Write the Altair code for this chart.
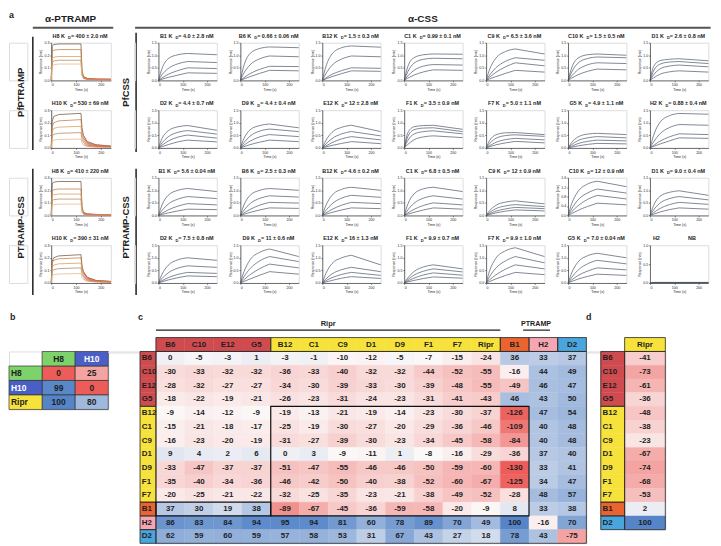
import altair as alt
import pandas as pd

FONT = "Liberation Sans"
INK = "#1e1e1e"
ONE = pd.DataFrame({"k": [0]})

# ============================== panel a : sensorgram data ==============================
ASSOC_T = [0, 15, 40, 80, 120]
DISS_T = [120, 240]
PTR_T = [0, 4, 10, 30, 120, 124, 130, 145, 180, 240]

PTR_NAMES = ["H8", "H10", "H8", "H10"]
PTR_KD = ["400 ± 2.0", "530 ± 69", "410 ± 220", "390 ± 31"]
PTR_CURVES = [
    [[0, 0.27, 0.285, 0.29, 0.29, 0.08, 0.03, 0.015, 0.01, 0.01],
     [0, 0.225, 0.24, 0.245, 0.245, 0.07, 0.028, 0.014, 0.01, 0.008],
     [0, 0.17, 0.185, 0.19, 0.19, 0.055, 0.022, 0.012, 0.008, 0.006],
     [0, 0.14, 0.155, 0.16, 0.16, 0.045, 0.018, 0.01, 0.006, 0.005],
     [0, 0.11, 0.125, 0.13, 0.13, 0.035, 0.015, 0.008, 0.005, 0.004]],
    [[0, 0.21, 0.25, 0.265, 0.275, 0.16, 0.10, 0.05, 0.025, 0.015],
     [0, 0.17, 0.20, 0.215, 0.225, 0.13, 0.08, 0.04, 0.02, 0.012],
     [0, 0.13, 0.155, 0.165, 0.172, 0.10, 0.062, 0.032, 0.016, 0.01],
     [0, 0.09, 0.108, 0.116, 0.122, 0.07, 0.044, 0.022, 0.012, 0.008],
     [0, 0.05, 0.062, 0.067, 0.07, 0.04, 0.025, 0.013, 0.007, 0.005]],
    [[0, 0.25, 0.265, 0.27, 0.27, 0.07, 0.025, 0.012, 0.008, 0.006],
     [0, 0.19, 0.205, 0.21, 0.21, 0.055, 0.02, 0.01, 0.007, 0.005],
     [0, 0.155, 0.165, 0.17, 0.17, 0.045, 0.017, 0.009, 0.006, 0.004],
     [0, 0.115, 0.125, 0.13, 0.13, 0.035, 0.013, 0.007, 0.005, 0.003],
     [0, 0.075, 0.085, 0.09, 0.09, 0.025, 0.01, 0.005, 0.004, 0.003]],
    [[0, 0.17, 0.20, 0.215, 0.225, 0.14, 0.09, 0.045, 0.02, 0.012],
     [0, 0.155, 0.18, 0.192, 0.20, 0.125, 0.08, 0.04, 0.018, 0.011],
     [0, 0.12, 0.142, 0.152, 0.158, 0.10, 0.064, 0.032, 0.015, 0.009],
     [0, 0.09, 0.106, 0.114, 0.12, 0.075, 0.048, 0.024, 0.012, 0.007],
     [0, 0.055, 0.066, 0.071, 0.075, 0.047, 0.03, 0.015, 0.008, 0.005]],
]

# each curve: response at t = 15, 40, 80, 120 s and at the end (240 s)
R1_NAMES = ["B1", "B6", "B12", "C1", "C9", "C10", "D1"]
R1_KD = ["4.0 ± 2.8", "0.66 ± 0.06", "1.5 ± 0.3", "0.99 ± 0.1", "6.5 ± 3.6", "1.5 ± 0.5", "2.6 ± 0.8"]
R1_YMAX = [1.5, 1.5, 1.5, 1.5, 1.5, 1.5, 1.5]
R1_CURVES = [
    [[0.48, 0.86, 1.02, 1.07, 1.02], [0.23, 0.47, 0.66, 0.75, 0.71], [0.10, 0.24, 0.39, 0.50, 0.47], [0.05, 0.12, 0.21, 0.30, 0.28]],
    [[0.60, 1.07, 1.27, 1.33, 1.30], [0.30, 0.62, 0.86, 0.97, 0.94], [0.11, 0.27, 0.44, 0.56, 0.55], [0.06, 0.15, 0.28, 0.40, 0.38]],
    [[0.55, 1.05, 1.30, 1.37, 1.32], [0.27, 0.60, 0.85, 0.97, 0.94], [0.10, 0.24, 0.39, 0.50, 0.48], [0.06, 0.15, 0.27, 0.38, 0.36]],
    [[0.55, 0.90, 1.02, 1.05, 1.04], [0.35, 0.68, 0.84, 0.88, 0.86], [0.18, 0.40, 0.57, 0.63, 0.61], [0.09, 0.21, 0.34, 0.42, 0.40]],
    [[0.45, 0.88, 1.15, 1.25, 1.05], [0.22, 0.50, 0.76, 0.90, 0.80], [0.13, 0.32, 0.54, 0.70, 0.58], [0.06, 0.15, 0.28, 0.40, 0.33]],
    [[0.50, 0.88, 1.02, 1.05, 1.00], [0.33, 0.68, 0.87, 0.93, 0.90], [0.18, 0.42, 0.62, 0.70, 0.67], [0.09, 0.22, 0.36, 0.45, 0.42]],
    [[0.55, 0.78, 0.84, 0.86, 0.78], [0.38, 0.64, 0.73, 0.75, 0.67], [0.22, 0.45, 0.57, 0.61, 0.54], [0.10, 0.24, 0.34, 0.38, 0.33]],
]

R2_NAMES = ["D2", "D9", "E12", "F1", "F7", "G5", "H2"]
R2_KD = ["4.4 ± 0.7", "4.4 ± 0.4", "12 ± 2.8", "3.5 ± 0.9", "5.0 ± 1.1", "4.9 ± 1.1", "0.88 ± 0.4"]
R2_YMAX = [1.5, 1.5, 1.5, 1.5, 1.5, 1.5, 1.5]
R2_CURVES = [
    [[0.38, 0.68, 0.84, 0.89, 0.70], [0.20, 0.44, 0.62, 0.69, 0.55], [0.11, 0.27, 0.43, 0.51, 0.39], [0.05, 0.13, 0.24, 0.31, 0.24]],
    [[0.38, 0.72, 0.89, 0.95, 0.80], [0.21, 0.47, 0.67, 0.75, 0.65], [0.11, 0.27, 0.44, 0.53, 0.45], [0.05, 0.13, 0.23, 0.31, 0.25]],
    [[0.30, 0.62, 0.82, 0.90, 0.65], [0.16, 0.37, 0.56, 0.65, 0.48], [0.08, 0.21, 0.36, 0.45, 0.32], [0.04, 0.10, 0.18, 0.25, 0.17]],
    [[0.60, 0.84, 0.89, 0.90, 0.74], [0.45, 0.72, 0.79, 0.80, 0.65], [0.30, 0.55, 0.65, 0.68, 0.56], [0.14, 0.32, 0.44, 0.48, 0.41]],
    [[0.30, 0.52, 0.60, 0.61, 0.53], [0.18, 0.38, 0.49, 0.52, 0.46], [0.09, 0.22, 0.33, 0.38, 0.32], [0.05, 0.12, 0.20, 0.26, 0.20]],
    [[0.22, 0.43, 0.55, 0.58, 0.53], [0.13, 0.29, 0.40, 0.45, 0.40], [0.07, 0.17, 0.26, 0.31, 0.28], [0.03, 0.08, 0.14, 0.18, 0.16]],
    [[0.50, 1.00, 1.28, 1.37, 1.34], [0.24, 0.55, 0.81, 0.93, 0.90], [0.10, 0.26, 0.44, 0.56, 0.53], [0.06, 0.15, 0.28, 0.40, 0.38]],
]

R3_NAMES = ["B1", "B6", "B12", "C1", "C9", "C10", "D1"]
R3_KD = ["5.6 ± 0.04", "2.5 ± 0.3", "4.6 ± 0.2", "6.8 ± 0.5", "12 ± 0.9", "12 ± 0.9", "9.0 ± 0.4"]
R3_YMAX = [1.5, 1.5, 1.5, 1.5, 1.5, 1.6, 1.5]
R3_CURVES = [
    [[0.42, 0.80, 1.00, 1.07, 0.95], [0.20, 0.45, 0.65, 0.75, 0.67], [0.09, 0.22, 0.37, 0.47, 0.42], [0.04, 0.10, 0.18, 0.25, 0.23]],
    [[0.42, 0.80, 1.00, 1.07, 1.00], [0.21, 0.47, 0.68, 0.78, 0.73], [0.10, 0.24, 0.41, 0.52, 0.49], [0.05, 0.12, 0.22, 0.30, 0.28]],
    [[0.40, 0.80, 1.04, 1.12, 1.00], [0.20, 0.46, 0.69, 0.80, 0.72], [0.10, 0.24, 0.41, 0.52, 0.47], [0.05, 0.12, 0.22, 0.30, 0.27]],
    [[0.45, 0.85, 1.06, 1.12, 0.95], [0.22, 0.48, 0.69, 0.78, 0.65], [0.10, 0.24, 0.40, 0.50, 0.42], [0.05, 0.12, 0.22, 0.30, 0.25]],
    [[0.20, 0.40, 0.53, 0.58, 0.46], [0.12, 0.27, 0.38, 0.43, 0.35], [0.07, 0.17, 0.26, 0.32, 0.27], [0.04, 0.10, 0.17, 0.22, 0.18]],
    [[0.50, 1.00, 1.33, 1.45, 1.22], [0.28, 0.65, 0.95, 1.12, 0.95], [0.16, 0.40, 0.68, 0.85, 0.70], [0.08, 0.21, 0.38, 0.52, 0.45]],
    [[0.40, 0.75, 0.92, 0.98, 0.80], [0.22, 0.48, 0.67, 0.75, 0.62], [0.11, 0.27, 0.43, 0.52, 0.44], [0.05, 0.13, 0.23, 0.30, 0.25]],
]

R4_NAMES = ["D2", "D9", "E12", "F1", "F7", "G5", "H2"]
R4_KD = ["7.5 ± 0.8", "11 ± 0.6", "16 ± 1.3", "9.9 ± 0.7", "9.9 ± 1.0", "7.0 ± 0.04", None]
R4_YMAX = [1.5, 1.5, 1.5, 1.5, 1.5, 1.5, 1.0]
R4_CURVES = [
    [[0.35, 0.70, 0.92, 1.00, 0.90], [0.18, 0.40, 0.59, 0.68, 0.62], [0.09, 0.21, 0.34, 0.42, 0.38], [0.05, 0.12, 0.21, 0.28, 0.25]],
    [[0.45, 0.92, 1.22, 1.35, 1.05], [0.25, 0.57, 0.88, 1.05, 0.85], [0.13, 0.33, 0.57, 0.75, 0.60], [0.06, 0.16, 0.31, 0.45, 0.35]],
    [[0.38, 0.77, 1.00, 1.10, 0.72], [0.16, 0.36, 0.53, 0.62, 0.45], [0.09, 0.21, 0.34, 0.42, 0.30], [0.04, 0.10, 0.19, 0.25, 0.18]],
    [[0.20, 0.45, 0.64, 0.72, 0.56], [0.13, 0.31, 0.47, 0.56, 0.44], [0.08, 0.19, 0.32, 0.40, 0.31], [0.04, 0.10, 0.18, 0.24, 0.19]],
    [[0.50, 0.98, 1.28, 1.40, 1.05], [0.26, 0.59, 0.88, 1.05, 0.80], [0.13, 0.32, 0.55, 0.72, 0.56], [0.06, 0.16, 0.30, 0.42, 0.33]],
    [[0.40, 0.82, 1.08, 1.18, 1.00], [0.22, 0.50, 0.76, 0.90, 0.76], [0.12, 0.29, 0.47, 0.60, 0.52], [0.06, 0.15, 0.26, 0.35, 0.30]],
    [[0.015, 0.015, 0.015, 0.015, 0.015], [0.01, 0.01, 0.01, 0.01, 0.01], [0.008, 0.008, 0.008, 0.008, 0.008], [0.005, 0.005, 0.005, 0.005, 0.005]],
]

TICKS = {1.5: [0, 0.5, 1.0, 1.5], 1.6: [0, 0.4, 0.8, 1.2, 1.6], 1.0: [0, 0.5, 1.0], 0.3: [0, 0.1, 0.2, 0.3]}

# ============================== panels b, c, d : heat-map data ==============================
B_COLS = ["H8", "H10"]
B_ROWS = ["H8", "H10", "Ripr"]
B_VALUES = [[0, 25], [99, 0], [100, 80]]

C_COLS = ["B6", "C10", "E12", "G5", "B12", "C1", "C9", "D1", "D9", "F1", "F7", "Ripr", "B1", "H2", "D2"]
C_ROWS = ["B6", "C10", "E12", "G5", "B12", "C1", "C9", "D1", "D9", "F1", "F7", "B1", "H2", "D2"]
C_VALUES = [
    [0, -5, -3, 1, -3, -1, -10, -12, -5, -7, -15, -24, 36, 33, 37],
    [-30, -33, -32, -32, -36, -33, -40, -32, -32, -44, -52, -55, -16, 44, 49],
    [-28, -32, -27, -27, -34, -30, -39, -33, -30, -39, -48, -55, -49, 46, 47],
    [-18, -22, -19, -21, -26, -23, -31, -24, -23, -31, -41, -43, 46, 43, 50],
    [-9, -14, -12, -9, -19, -13, -21, -19, -14, -23, -30, -37, -126, 47, 54],
    [-15, -21, -18, -17, -25, -19, -30, -27, -20, -29, -36, -46, -109, 40, 48],
    [-16, -23, -20, -19, -31, -27, -39, -30, -23, -34, -45, -58, -84, 40, 48],
    [9, 4, 2, 6, 0, 3, -9, -11, 1, -8, -16, -29, -36, 37, 40],
    [-33, -47, -37, -37, -51, -47, -55, -46, -46, -50, -59, -60, -130, 33, 41],
    [-35, -40, -34, -36, -46, -42, -50, -40, -38, -52, -60, -67, -125, 34, 47],
    [-20, -25, -21, -22, -32, -25, -35, -23, -21, -38, -49, -52, -28, 48, 57],
    [37, 30, 19, 38, -89, -67, -45, -36, -59, -58, -20, -9, 8, 33, 38],
    [86, 83, 84, 94, 95, 94, 81, 60, 78, 89, 70, 49, 100, -16, 70],
    [62, 59, 60, 59, 57, 58, 53, 31, 67, 43, 27, 18, 78, 43, -75],
]
C_BOXES = [("B12", "B1", "B12", "B1"), ("B6", "G5", "B1", "B1")]  # (first col, last col, first row, last row)

D_COLS = ["Ripr"]
D_ROWS = ["B6", "C10", "E12", "G5", "B12", "C1", "C9", "D1", "D9", "F1", "F7", "B1", "D2"]
D_VALUES = [[-41], [-73], [-61], [-36], [-48], [-38], [-23], [-67], [-74], [-68], [-53], [2], [100]]

GROUP_OF = {"B6": "red", "C10": "red", "E12": "red", "G5": "red",
            "B12": "yellow", "C1": "yellow", "C9": "yellow", "D1": "yellow", "D9": "yellow",
            "F1": "yellow", "F7": "yellow", "Ripr": "yellow", "B1": "orange", "H2": "pink", "D2": "blue"}
LAB_COLORS = {"red": "#cf4b50", "yellow": "#f6e23b", "orange": "#eb6430", "pink": "#f6a6b3",
              "blue": "#4aa5dc", "green": "#7dd26b", "navy": "#4a5fc6"}
B_GROUP = {"H8": "green", "H10": "navy", "Ripr": "yellow"}
B_TEXT = {"H8": INK, "H10": "white", "Ripr": INK}

RED_END, MID, BLUE_END = "#ec5d59", "#fbf8f8", "#5585c8"

# ============================== helpers ==============================
AW = {" ": 0.278, ".": 0.278, "±": 0.584, "=": 0.584, "n": 0.611, "M": 0.833, "K": 0.722,
      "B": 0.722, "C": 0.722, "D": 0.722, "E": 0.667, "F": 0.611, "G": 0.778, "H": 0.722}


def tw(s, size):
    return sum(AW.get(ch, 0.556) for ch in s) * size


def txt(s, x, y, size, weight="bold", align="left", baseline="alphabetic", angle=0, color=INK):
    kw = dict(text=s, fontSize=size, fontWeight=weight, align=align, baseline=baseline,
              color=color, font=FONT)
    if angle:
        kw["angle"] = angle
    return alt.Chart(ONE).mark_text(**kw).encode(x=alt.value(x), y=alt.value(y))


def hrule(x1, x2, y, w, color=INK):
    return alt.Chart(ONE).mark_rule(strokeWidth=w, color=color).encode(
        x=alt.value(x1), x2=alt.value(x2), y=alt.value(y))


def vrule(x, y1, y2, w, color=INK):
    return alt.Chart(ONE).mark_rule(strokeWidth=w, color=color).encode(
        x=alt.value(x), y=alt.value(y1), y2=alt.value(y2))


def spacer(w, h):
    return alt.Chart(ONE).mark_point(opacity=0, size=1).encode(
        x=alt.value(0), y=alt.value(0)).properties(width=w, height=h)


AX = dict(labelFontSize=3.6, titleFontSize=3.6, titleFontWeight="normal", labelFont=FONT, titleFont=FONT,
          tickSize=1.5, tickWidth=0.5, domainWidth=0.6, domainColor=INK, tickColor=INK,
          labelColor=INK, titleColor=INK, labelPadding=0.8, titlePadding=1.0, grid=False,
          labelOverlap=False)


def x_axis():
    return alt.Axis(values=[0, 100, 200], title="Time (s)", **AX)


def y_axis(ticks):
    return alt.Axis(values=ticks, format=".1f", title="Response (nm)", **AX)


PTR_W, CSS_W, PLOT_H = 60, 58.8, 38
TY, TS, SUB = -5, 5.5, 4.0
CSS_LINE = "#4a5466"
PTR_COLORS = ["#6e5440", "#c27a3e", "#d99a5c", "#b08660", "#e3b886"]


def title_layers(name, kd, w):
    if kd is None:
        return [txt(name, 3, TY, TS), txt("NB", w * 0.72, TY, TS, align="center")]
    left = f"{name}   K"
    right = f" = {kd} nM"
    wl, wr, wd = tw(left, TS), tw(right, TS), 0.722 * SUB
    x0 = w / 2 - (wl + wd + wr) / 2
    return [txt(left, x0, TY, TS), txt("D", x0 + wl, TY + 1.6, SUB), txt(right, x0 + wl + wd, TY, TS)]


def css_plot(name, kd, curves, ymax):
    recs = []
    for ci, c in enumerate(curves):
        for t, v in zip(ASSOC_T, [0.0] + list(c[:4])):
            recs.append({"t": t, "v": v, "s": f"{ci}a"})
        for t, v in zip(DISS_T, [c[3], c[4]]):
            recs.append({"t": t, "v": v, "s": f"{ci}d"})
    df = pd.DataFrame(recs)
    lines = alt.Chart(df).mark_line(strokeWidth=0.7, color=CSS_LINE, interpolate="monotone").encode(
        x=alt.X("t:Q", scale=alt.Scale(domain=[0, 240], nice=False), axis=x_axis()),
        y=alt.Y("v:Q", scale=alt.Scale(domain=[0, ymax], nice=False), axis=y_axis(TICKS[ymax])),
        detail="s:N")
    return alt.layer(lines, *title_layers(name, kd, CSS_W)).properties(width=CSS_W, height=PLOT_H)


def ptr_plot(name, kd, curves):
    layers = []
    for ci, c in enumerate(curves):
        df = pd.DataFrame({"t": PTR_T, "v": c})
        enc = dict(
            x=alt.X("t:Q", scale=alt.Scale(domain=[0, 240], nice=False), axis=x_axis()),
            y=alt.Y("v:Q", scale=alt.Scale(domain=[0, 0.3], nice=False), axis=y_axis(TICKS[0.3])))
        layers.append(alt.Chart(df).mark_line(strokeWidth=0.75, color=PTR_COLORS[ci]).encode(**enc))
        layers.append(alt.Chart(df).transform_filter("datum.t >= 130").mark_line(
            strokeWidth=0.45, color="#d9482f", opacity=0.8).encode(**enc))
    return alt.layer(*layers, *title_layers(name, kd, PTR_W)).properties(width=PTR_W, height=PLOT_H)


# ============================== panel a layout (one flush grid) ==============================
VS = 30          # vertical gap between plot rows
S = 23.5         # horizontal gap between grid columns
LW = 18.5        # width of the annotation column
PITCH = PLOT_H + VS
css_left = LW + S + PTR_W + S + 1 + S
css_right = css_left + 7 * CSS_W + 6 * S
g1c = (2 * PLOT_H + VS) / 2 - 3
g2c = 2 * PITCH + (2 * PLOT_H + VS) / 2 - 3
g2t = 2 * PITCH
top_h = 4 * PLOT_H + 3 * VS

lab = alt.layer(
    txt("a", 0, -25, 9),
    txt("α-PTRAMP", 62, -21, 10, align="center"),
    hrule(24, 105, -15, 2, "#555555"),
    txt("α-CSS", (css_left - 23 + css_right + 4) / 2, -21, 10, align="center"),
    hrule(css_left - 23, css_right + 4, -15, 2, "#555555"),
    txt("PfPTRAMP", 12, g1c, 9.5, angle=270, align="center", baseline="middle"),
    vrule(24, -6, 2 * PLOT_H + VS + 2, 1.5),
    txt("PTRAMP-CSS", 12, g2c, 9.5, angle=270, align="center", baseline="middle"),
    vrule(24, g2t - 9, top_h + 12, 1.5),
    txt("PfCSS", css_left - 32, g1c, 9.5, angle=270, align="center", baseline="middle"),
    vrule(css_left - 22, -10, 2 * PLOT_H + VS + 4, 1.5),
    txt("PTRAMP-CSS", css_left - 32, g2c, 9.5, angle=270, align="center", baseline="middle"),
    vrule(css_left - 22, g2t - 9, top_h + 12, 1.5),
).properties(width=LW, height=PLOT_H)

ROWS = [(R1_NAMES, R1_KD, R1_YMAX, R1_CURVES), (R2_NAMES, R2_KD, R2_YMAX, R2_CURVES),
        (R3_NAMES, R3_KD, R3_YMAX, R3_CURVES), (R4_NAMES, R4_KD, R4_YMAX, R4_CURVES)]
top_cells = []
for r, (names, kds, ymaxs, curves) in enumerate(ROWS):
    top_cells.append(lab if r == 0 else spacer(LW, PLOT_H))
    top_cells.append(ptr_plot(PTR_NAMES[r], PTR_KD[r], PTR_CURVES[r]))
    top_cells.append(spacer(1, PLOT_H))
    top_cells += [css_plot(n, k, c, y) for n, k, y, c in zip(names, kds, ymaxs, curves)]
top = alt.concat(*top_cells, columns=10, spacing={"row": VS, "column": S}, bounds="flush", align="each")


# ============================== heat-map helpers ==============================
def runs(names):
    out, s = [], 0
    for k in range(1, len(names) + 1):
        if k == len(names) or GROUP_OF[names[k]] != GROUP_OF[names[s]]:
            out.append((s, k, GROUP_OF[names[s]]))
            s = k
    return out


def rect_layer(df, xs, ys, **mark):
    return alt.Chart(df).mark_rect(**mark).encode(
        x=alt.X("x0:Q", scale=xs, axis=None), x2="x1:Q",
        y=alt.Y("y0:Q", scale=ys, axis=None), y2="y1:Q")


def text_layer(df, xs, ys, size, align="center"):
    return alt.Chart(df).mark_text(fontSize=size, fontWeight="bold", font=FONT, align=align,
                                   baseline="middle").encode(
        x=alt.X("xt:Q", scale=xs, axis=None), y=alt.Y("yt:Q", scale=ys, axis=None),
        text="t:N", fill=alt.Fill("tc:N", scale=None))


def side_table(rows, cols, values, width, row_h, lab_px, cscale, boxes=(), hdr_px=14.0, fs=8.0):
    ncol, nrow = len(cols), len(rows)
    cw = width / ncol
    lw, hh = lab_px / cw, hdr_px / row_h
    xs = alt.Scale(domain=[0, ncol], nice=False, zero=False)
    ys = alt.Scale(domain=[0, nrow], nice=False, zero=False, reverse=True)
    cells = pd.DataFrame([{"x0": j, "x1": j + 1, "y0": i, "y1": i + 1, "xt": j + 0.5, "yt": i + 0.5,
                           "v": values[i][j], "t": str(values[i][j]), "tc": INK}
                          for i in range(nrow) for j in range(ncol)])
    rl = pd.DataFrame([{"x0": -lw, "x1": 0, "y0": i, "y1": i + 1, "xt": -lw + 1.8 / cw, "yt": i + 0.5,
                        "bg": LAB_COLORS[GROUP_OF[r]], "t": r, "tc": INK} for i, r in enumerate(rows)])
    cl = pd.DataFrame([{"x0": j, "x1": j + 1, "y0": -hh, "y1": 0, "xt": j + 0.5, "yt": -hh / 2,
                        "bg": LAB_COLORS[GROUP_OF[c]], "t": c, "tc": INK} for j, c in enumerate(cols)])
    outl = [{"x0": -lw, "x1": 0, "y0": s, "y1": e} for s, e, g in runs(rows)]
    outl += [{"x0": s, "x1": e, "y0": -hh, "y1": 0} for s, e, g in runs(cols)]
    outl += [{"x0": 0, "x1": ncol, "y0": 0, "y1": nrow}]
    bx = [{"x0": cols.index(a), "x1": cols.index(b) + 1, "y0": rows.index(c), "y1": rows.index(d) + 1}
          for a, b, c, d in boxes]
    heat = alt.Chart(cells).mark_rect(strokeWidth=0.4).encode(
        x=alt.X("x0:Q", scale=xs, axis=None), x2="x1:Q",
        y=alt.Y("y0:Q", scale=ys, axis=None), y2="y1:Q",
        color=alt.Color("v:Q", scale=cscale, legend=None),
        stroke=alt.Stroke("v:Q", scale=cscale, legend=None))
    layers = [
        heat,
        rect_layer(rl, xs, ys, strokeWidth=0.4).encode(fill=alt.Fill("bg:N", scale=None),
                                                      stroke=alt.Stroke("bg:N", scale=None)),
        rect_layer(cl, xs, ys, strokeWidth=0.4).encode(fill=alt.Fill("bg:N", scale=None),
                                                      stroke=alt.Stroke("bg:N", scale=None)),
        rect_layer(pd.DataFrame(outl), xs, ys, filled=False, color="#2a2a2a", strokeWidth=0.8),
        text_layer(cells, xs, ys, fs),
        text_layer(rl, xs, ys, fs, align="left"),
        text_layer(cl, xs, ys, fs),
    ]
    if bx:
        layers.append(rect_layer(pd.DataFrame(bx), xs, ys, filled=False, color="#111111", strokeWidth=1.2))
    return layers


CSCALE = alt.Scale(domain=[-130, -8, 100], range=[RED_END, MID, BLUE_END], interpolate="rgb", clamp=True)
BSCALE = alt.Scale(domain=[0, 55, 100], range=[RED_END, MID, BLUE_END], interpolate="rgb", clamp=True)

ROW_H = 13.8
C_W = 433.5
C_H = len(C_ROWS) * ROW_H
ccw = C_W / len(C_COLS)
c_chart = alt.layer(
    *side_table(C_ROWS, C_COLS, C_VALUES, C_W, ROW_H, 16, CSCALE, C_BOXES),
    txt("c", -18, -32, 9),
    txt("Ripr", 6 * ccw, -26, 7.5, align="center"),
    hrule(0, 12 * ccw, -21.5, 1.2),
    txt("PTRAMP", 12 * ccw + 36, -26, 7.2, align="center"),
    hrule(12 * ccw + 23, 12 * ccw + 50, -21.5, 1.2),
).properties(width=C_W, height=C_H)

D_W = 41
D_H = len(D_ROWS) * ROW_H
d_chart = alt.layer(
    *side_table(D_ROWS, D_COLS, D_VALUES, D_W, ROW_H, 24, CSCALE),
    txt("d", -39, -32, 9),
).properties(width=D_W, height=D_H)

# panel b : label column and header row are part of the grid
B_W, B_RH = 100, 14.6
bxs = alt.Scale(domain=[0, 3], nice=False, zero=False)
bys = alt.Scale(domain=[0, 4], nice=False, zero=False, reverse=True)
b_cells = pd.DataFrame([{"x0": j + 1, "x1": j + 2, "y0": i + 1, "y1": i + 2, "xt": j + 1.5, "yt": i + 1.5,
                         "v": B_VALUES[i][j], "t": str(B_VALUES[i][j]), "tc": INK}
                        for i in range(len(B_ROWS)) for j in range(len(B_COLS))])
b_rl = pd.DataFrame([{"x0": 0, "x1": 1, "y0": i + 1, "y1": i + 2, "xt": 0.06, "yt": i + 1.5,
                      "bg": LAB_COLORS[B_GROUP[r]], "t": r, "tc": B_TEXT[r]} for i, r in enumerate(B_ROWS)])
b_cl = pd.DataFrame([{"x0": j + 1, "x1": j + 2, "y0": 0, "y1": 1, "xt": j + 1.5, "yt": 0.5,
                      "bg": LAB_COLORS[B_GROUP[c]], "t": c, "tc": B_TEXT[c]} for j, c in enumerate(B_COLS)])
b_chart = alt.layer(
    rect_layer(b_cells, bxs, bys, stroke="#333333", strokeWidth=0.7).encode(
        color=alt.Color("v:Q", scale=BSCALE, legend=None)),
    rect_layer(b_rl, bxs, bys, stroke="#333333", strokeWidth=0.7).encode(fill=alt.Fill("bg:N", scale=None)),
    rect_layer(b_cl, bxs, bys, stroke="#333333", strokeWidth=0.7).encode(fill=alt.Fill("bg:N", scale=None)),
    text_layer(b_cells, bxs, bys, 8.5),
    text_layer(b_rl, bxs, bys, 8.5, align="left"),
    text_layer(b_cl, bxs, bys, 8.5),
    txt("b", 1, -32, 9),
).properties(width=B_W, height=4 * B_RH)

bottom = alt.hconcat(b_chart, spacer(48, 1), c_chart, spacer(37.5, 1), d_chart,
                     spacing=0, bounds="flush").resolve_scale(color="independent")

chart = alt.vconcat(top, bottom, spacing=15).resolve_scale(
    color="independent").properties(padding=0).configure_view(strokeWidth=0).configure(font=FONT)

chart.save("out.html", embed_options={"renderer": "svg", "actions": False})
